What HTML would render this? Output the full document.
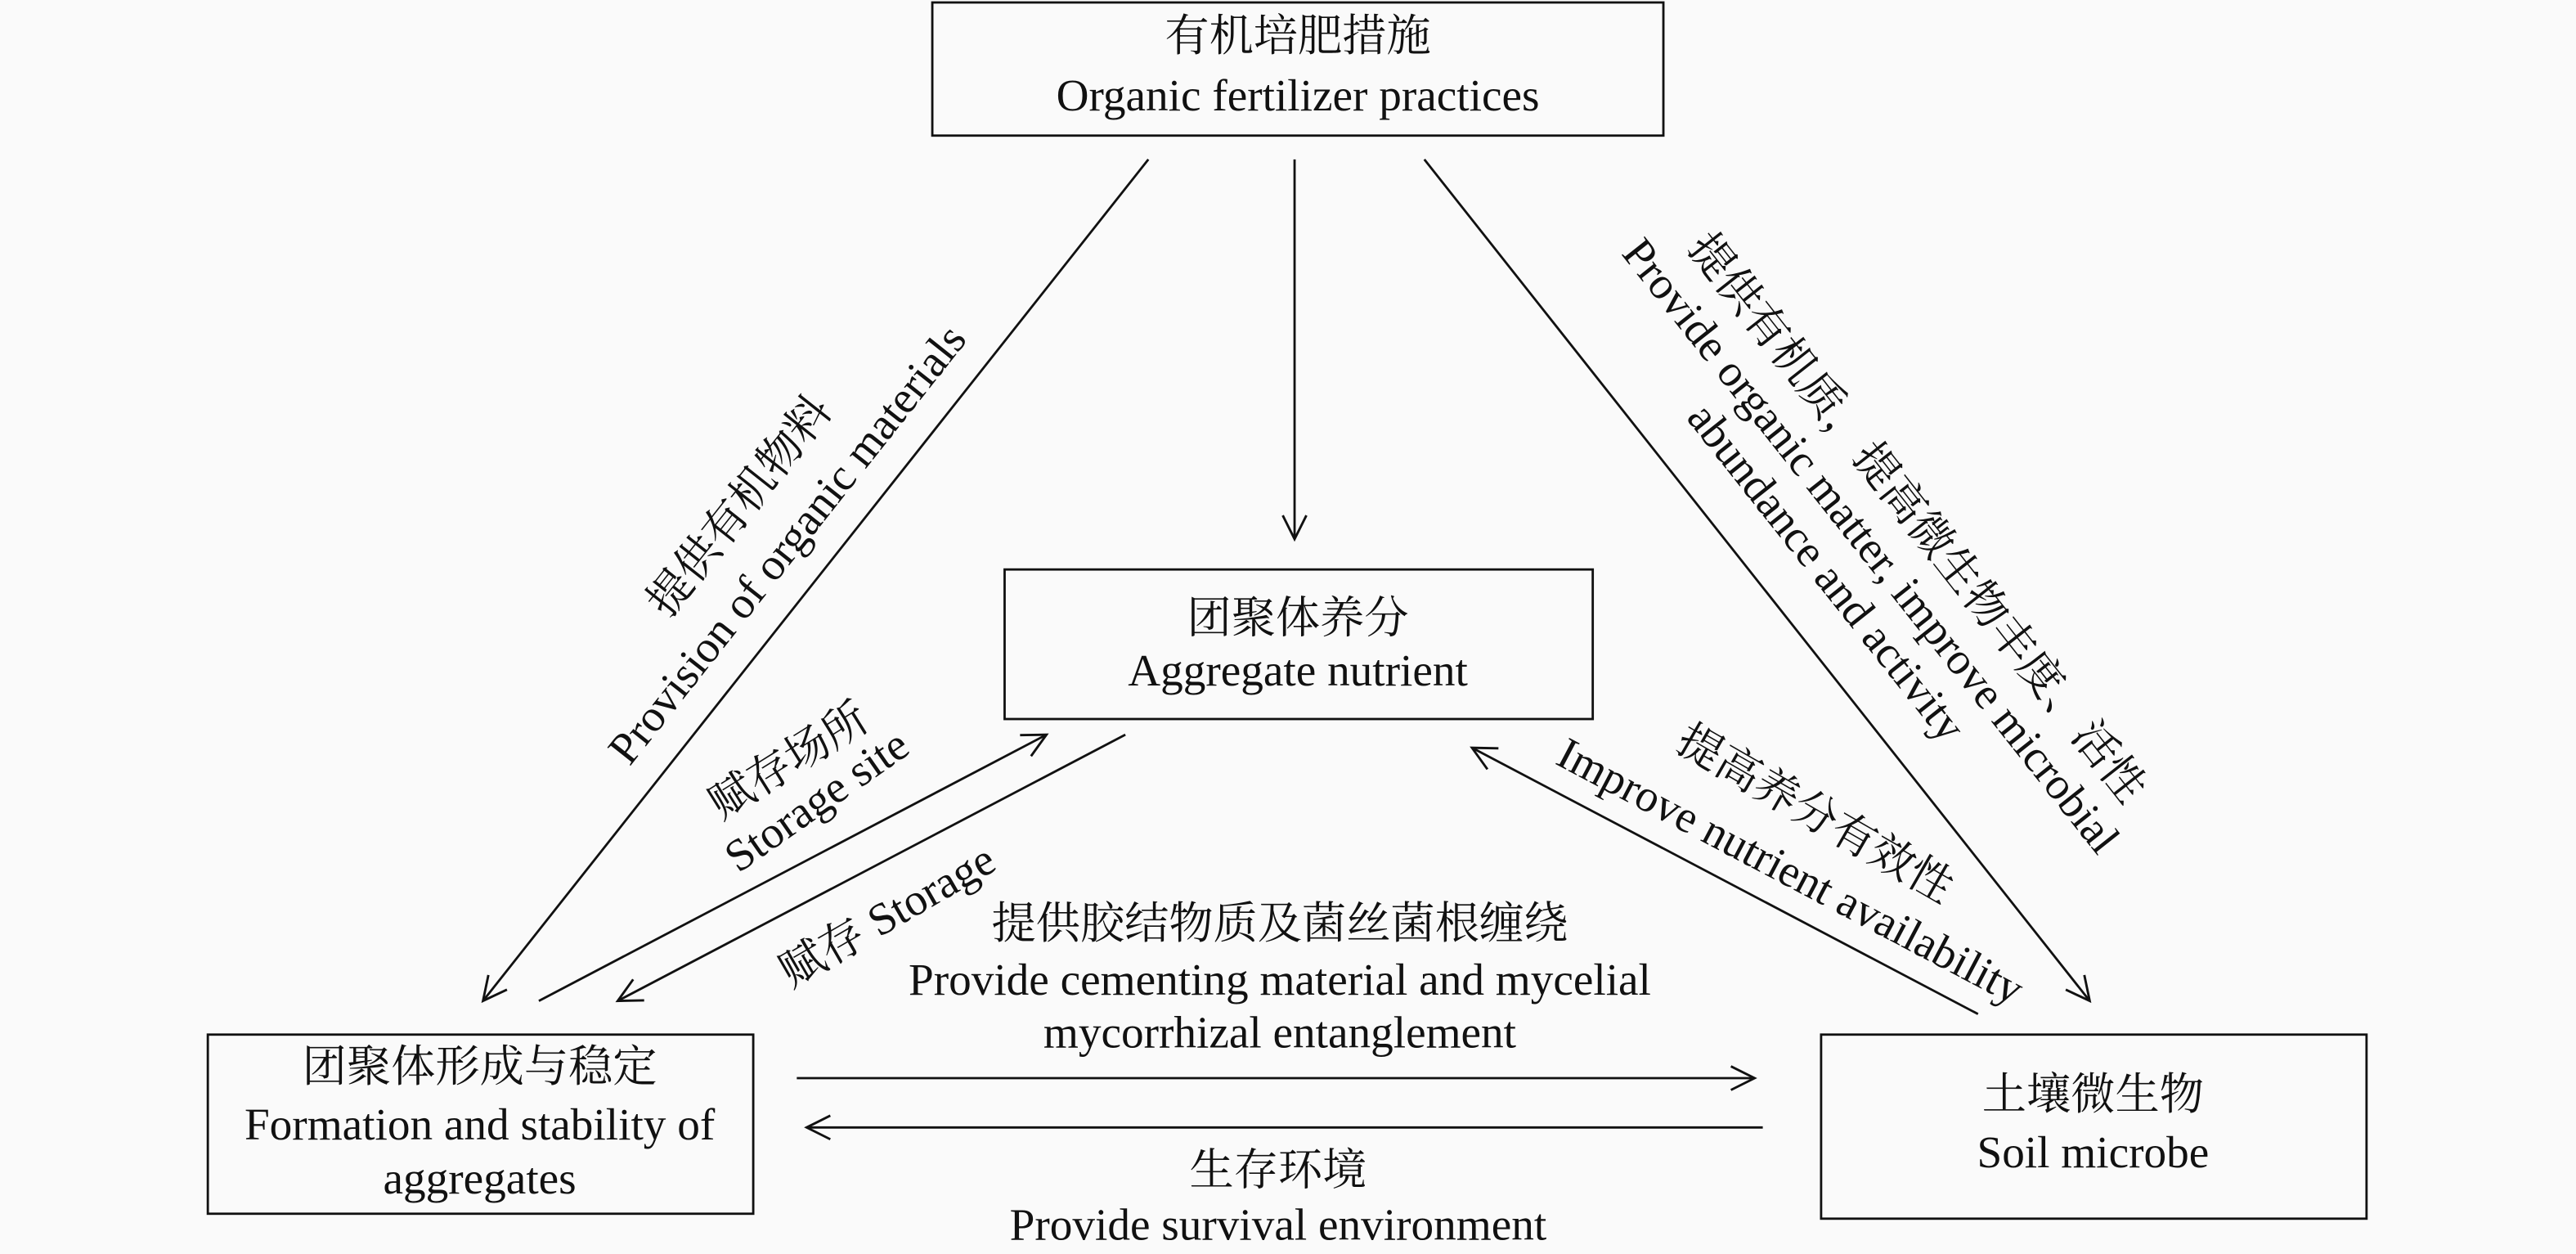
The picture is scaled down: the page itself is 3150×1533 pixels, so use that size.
<!DOCTYPE html>
<html><head><meta charset="utf-8"><style>
html,body{margin:0;padding:0;background:#fafafa;}
svg{display:block;}
text{font-family:"Liberation Serif","Noto Serif CJK SC","Noto Sans CJK SC",serif;font-size:27.5px;fill:#111;}
.c{font-size:27px;}
</style></head><body>
<svg width="3150" height="1533" viewBox="0 0 1568 763" preserveAspectRatio="none" xmlns="http://www.w3.org/2000/svg">
<defs>
<marker id="a" viewBox="0 0 20 20" refX="18" refY="10" markerWidth="18" markerHeight="18" markerUnits="userSpaceOnUse" orient="auto">
<path d="M2,2 L18,10 L2,18" fill="none" stroke="#111" stroke-width="1.6"/>
</marker>
</defs>
<rect x="0" y="0" width="1568" height="763" fill="#fafafa"/>
<g fill="none" stroke="#111" stroke-width="1.4">
<rect x="567.5" y="1.5" width="445" height="81"/>
<rect x="611.5" y="346.5" width="358" height="91"/>
<rect x="126.5" y="629.5" width="332" height="109"/>
<rect x="1108.5" y="629.5" width="332" height="112"/>
<g marker-end="url(#a)">
<line x1="699" y1="97" x2="294" y2="609"/>
<line x1="788" y1="97" x2="788" y2="328"/>
<line x1="867" y1="97" x2="1272" y2="609"/>
<line x1="328" y1="609" x2="637" y2="447"/>
<line x1="685" y1="447" x2="376" y2="609"/>
<line x1="1204" y1="617" x2="896" y2="455"/>
<line x1="485" y1="656" x2="1068" y2="656"/>
<line x1="1073" y1="686" x2="491" y2="686"/>
</g>
</g>
<g text-anchor="middle" dominant-baseline="central">
<text class="c" x="790" y="22">有机培肥措施</text>
<text x="790" y="58">Organic fertilizer practices</text>
<text class="c" x="790" y="376">团聚体养分</text>
<text x="790" y="408">Aggregate nutrient</text>
<text class="c" x="292" y="649">团聚体形成与稳定</text>
<text x="292" y="684">Formation and stability of</text>
<text x="292" y="717">aggregates</text>
<text class="c" x="1274" y="666">土壤微生物</text>
<text x="1274" y="701">Soil microbe</text>
<text class="c" x="779" y="562">提供胶结物质及菌丝菌根缠绕</text>
<text x="779" y="596">Provide cementing material and mycelial</text>
<text x="779" y="628">mycorrhizal entanglement</text>
<text class="c" x="778" y="712">生存环境</text>
<text x="778" y="745">Provide survival environment</text>
<text class="c" transform="translate(450,308) rotate(-51.6)">提供有机物料</text>
<text transform="translate(479,331) rotate(-51.6)">Provision of organic materials</text>
<text class="c" transform="translate(1167,315) rotate(51.8)">提供有机质，提高微生物丰度、活性</text>
<text transform="translate(1139,332) rotate(51.6)">Provide organic matter, improve microbial</text>
<text transform="translate(1112,348) rotate(51.6)">abundance and activity</text>
<text class="c" transform="translate(480,463) rotate(-32)">赋存场所</text>
<text transform="translate(497,487) rotate(-35)">Storage site</text>
<text transform="translate(540,557) rotate(-30)">赋存 Storage</text>
<text class="c" transform="translate(1105,495) rotate(30)">提高养分有效性</text>
<text transform="translate(1090,530) rotate(27.8)">Improve nutrient availability</text>
</g>
</svg>
</body></html>
